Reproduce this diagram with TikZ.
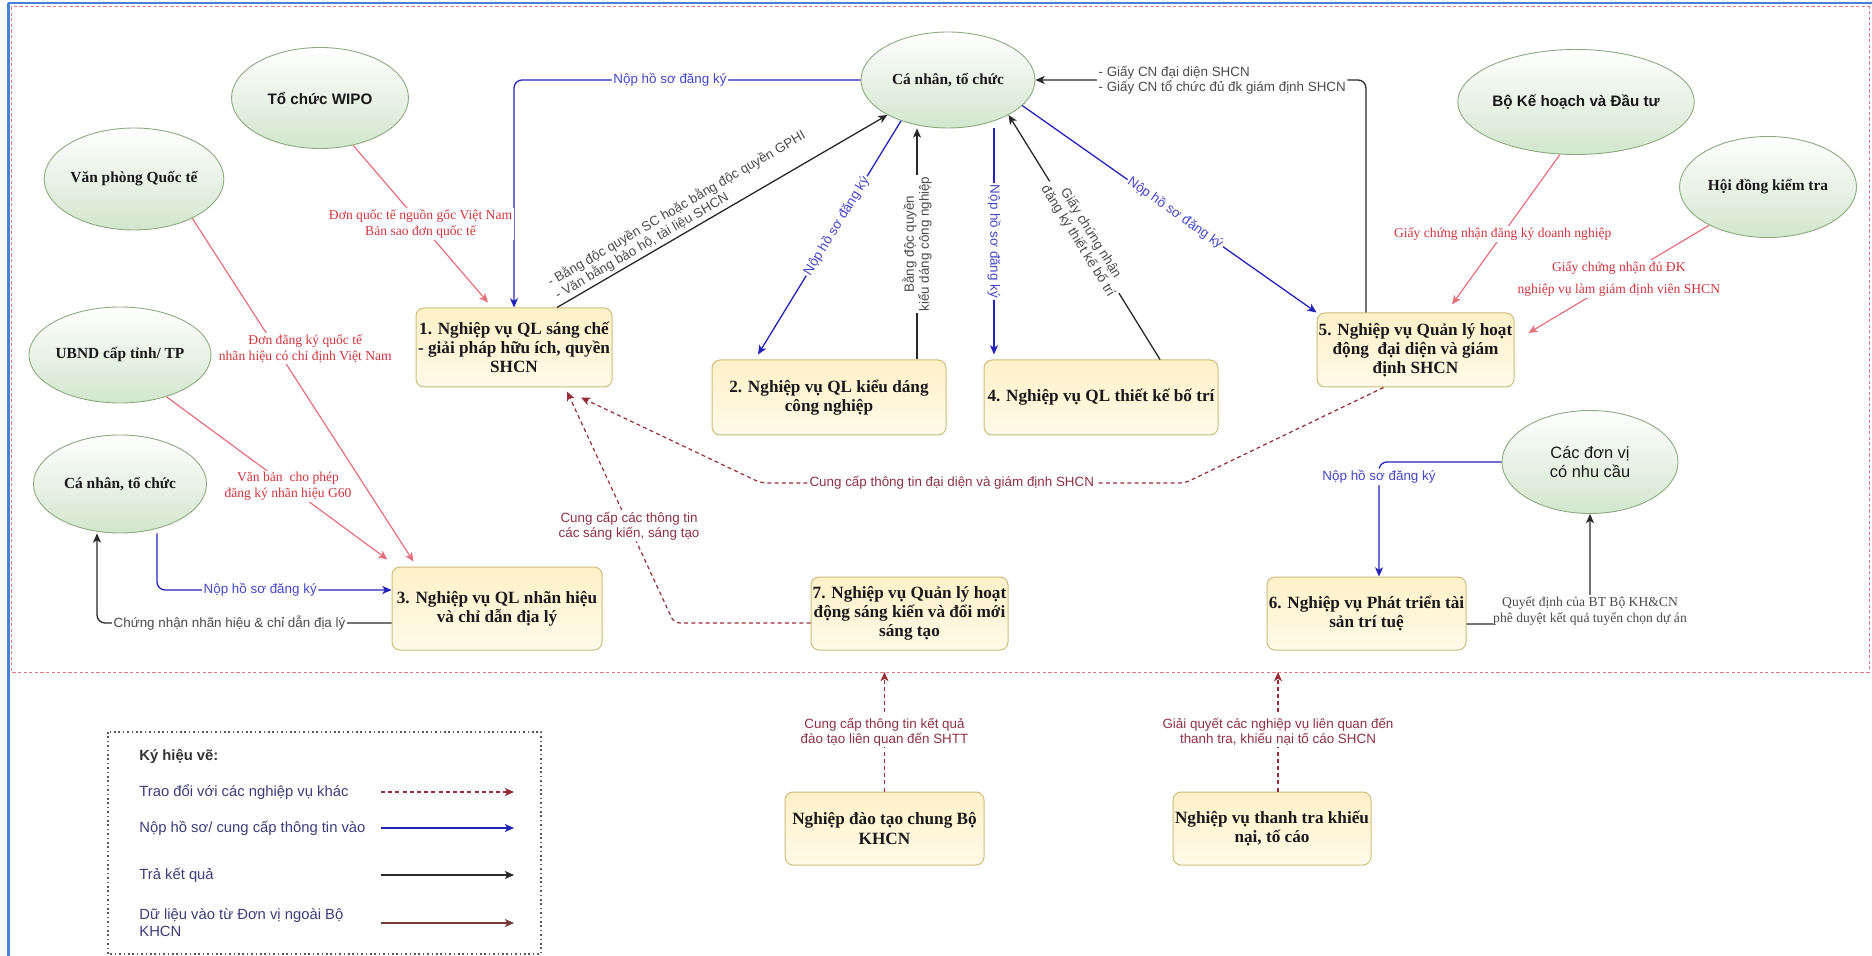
\documentclass[tikz,border=0pt]{standalone}
\usepackage{fontspec}
\setmainfont{Liberation Serif}
\setsansfont{Liberation Sans}
\usetikzlibrary{arrows.meta,calc,shapes.geometric}

\definecolor{ellline}{RGB}{140,170,128}
\definecolor{ellfill}{RGB}{210,230,205}
\definecolor{boxline}{RGB}{205,188,125}
\definecolor{boxtop}{RGB}{255,241,200}
\definecolor{boxbot}{RGB}{255,250,232}
\definecolor{inkblue}{RGB}{35,35,185}
\definecolor{lblblue}{RGB}{70,70,200}
\definecolor{inkblack}{RGB}{40,40,40}
\definecolor{lblgrey}{RGB}{75,75,75}
\definecolor{inkred}{RGB}{228,112,125}
\definecolor{lblred}{RGB}{205,55,65}
\definecolor{inkmaroon}{RGB}{150,45,55}
\definecolor{lblmaroon}{RGB}{140,50,70}
\definecolor{frameblue}{RGB}{70,130,215}
\definecolor{framered}{RGB}{225,120,130}
\definecolor{legtext}{RGB}{60,60,120}
\definecolor{legbrown}{RGB}{120,60,60}
\definecolor{txtdark}{RGB}{25,25,25}

\newcommand\fntBox{\bfseries\fontsize{8.6}{9.6}\selectfont}
\newcommand\fntEll{\bfseries\fontsize{7.7}{9}\selectfont}
\newcommand\fntEllSans{\sffamily\bfseries\fontsize{7.6}{9}\selectfont}
\newcommand\fntEllSansR{\sffamily\fontsize{8.2}{9.2}\selectfont}
\newcommand\fntLbl{\sffamily\fontsize{6.7}{7.5}\selectfont}
\newcommand\fntLblSerif{\fontsize{6.8}{7.8}\selectfont}
\newcommand\fntLeg{\sffamily\fontsize{7.4}{8.6}\selectfont}

\tikzset{
  >={Stealth[length=4.6pt,width=4pt,inset=1.2pt]},
  extell/.style={ellipse, draw=ellline, line width=0.45pt, top color=white,
    bottom color=ellfill, inner sep=0pt, align=center, text=txtdark,
    font=\fntEll, minimum width=88pt, minimum height=50pt},
  procbox/.style={rectangle, rounded corners=4pt, draw=boxline, line width=0.5pt,
    top color=boxtop, bottom color=boxbot, inner sep=0pt, align=center,
    text=txtdark, font=\fntBox},
  eblue/.style={draw=inkblue, line width=0.65pt, ->},
  eblack/.style={draw=inkblack, line width=0.65pt, ->},
  ered/.style={draw=inkred, line width=0.6pt, ->},
  edash/.style={draw=inkmaroon, line width=0.6pt, dash pattern=on 2pt off 1.6pt, ->},
  lblue/.style={font=\fntLbl, text=lblblue, fill=white, inner sep=0.8pt},
  lgrey/.style={font=\fntLbl, text=lblgrey, fill=white, inner sep=0.8pt},
  lred/.style={font=\fntLblSerif, text=lblred, fill=white, inner sep=0.8pt, align=center},
  ldark/.style={font=\fntLbl, text=lblmaroon, fill=white, inner sep=0.8pt, align=center},
  lserif/.style={font=\fntLblSerif, text=lblgrey, fill=white, inner sep=0.8pt, align=center},
  legtxt/.style={font=\fntLeg, text=legtext, anchor=west, align=left, inner sep=0pt},
}

\begin{document}
\begin{tikzpicture}[x=0.5pt,y=-0.5pt]
\useasboundingbox (0,0) rectangle (1872,956);

% outer frames
\draw[frameblue, line width=1.5pt] (8,956) -- (8,3);
\draw[frameblue, line width=1pt] (8,3) -- (1872,3);
\draw[framered, line width=0.5pt, dash pattern=on 1.6pt off 1.2pt] (11,7) rectangle (1869,672);
\coordinate (sepL) at (11,672);

% external parties
\node[extell, minimum width=87pt, minimum height=48pt] (E1) at (948,80) {Cá nhân, tổ chức};
\node[extell, font=\fntEllSans, minimum width=88.5pt, minimum height=50.5pt] (WIPO) at (320,98) {Tổ chức WIPO};
\node[extell, minimum width=88.5pt, minimum height=51pt] (VP) at (134,179) {Văn phòng Quốc tế};
\node[extell, minimum width=86.5pt, minimum height=48pt] (UBND) at (120,355) {UBND cấp tỉnh/ TP};
\node[extell, minimum width=86.5pt, minimum height=49pt] (E2) at (120,484) {Cá nhân, tổ chức};
\node[extell, font=\fntEllSans, minimum width=88.5pt, minimum height=52.5pt] (BKH) at (1576,102) {Bộ Kế hoạch và Đầu tư};
\node[extell, minimum width=88.5pt, minimum height=50.5pt] (HD) at (1768,187) {Hội đồng kiểm tra};
\node[extell, font=\fntEllSansR, minimum width=88pt, minimum height=51.5pt] (CDV) at (1590,462) {Các đơn vị\\có nhu cầu};

% business processes
\node[procbox, minimum width=98pt, minimum height=39.5pt] (B1) at (514,347.5) {1. Nghiệp vụ QL sáng chế\\- giải pháp hữu ích, quyền\\SHCN};
\node[procbox, minimum width=117pt, minimum height=37.5pt] (B2) at (829,397.5) {2. Nghiệp vụ QL kiểu dáng\\công nghiệp};
\node[procbox, minimum width=117pt, minimum height=37.5pt] (B4) at (1101,397.5) {4. Nghiệp vụ QL thiết kế bố trí};
\node[procbox, minimum width=98.5pt, minimum height=37pt] (B5) at (1415.5,350) {5. Nghiệp vụ Quản lý hoạt\\động~ đại diện và giám\\định SHCN};
\node[procbox, minimum width=105pt, minimum height=41.5pt] (B3) at (497,608.5) {3. Nghiệp vụ QL nhãn hiệu\\và chỉ dẫn địa lý};
\node[procbox, minimum width=98.5pt, minimum height=36.5pt] (B7) at (909.5,613.5) {7. Nghiệp vụ Quản lý hoạt\\động sáng kiến và đổi mới\\sáng tạo};
\node[procbox, minimum width=99.5pt, minimum height=36.5pt] (B6) at (1366.5,613.5) {6. Nghiệp vụ Phát triển tài\\sản trí tuệ};
\node[procbox, minimum width=99.5pt, minimum height=36.5pt] (BDT) at (884.5,828.5) {Nghiệp đào tạo chung Bộ\\KHCN};
\node[procbox, minimum width=99pt, minimum height=36.5pt] (BTT) at (1272,828.5) {Nghiệp vụ thanh tra khiếu\\nại, tố cáo};

% attachment points
\coordinate (b1a) at ($(B1.north)+(43,0)$);
\coordinate (b2a) at ($(B2.north)+(88,0)$);
\coordinate (b4a) at ($(B4.north)+(-107,-5)$);
\coordinate (b5a) at ($(B5.north)+(-49.5,0)$);
\coordinate (bta) at ($(BTT.north)+(6,0)$);

% submissions (blue)
\draw[eblue, rounded corners=4pt] (E1.west) -- node[lblue, pos=0.55]{Nộp hồ sơ đăng ký} (E1.west -| B1.north) -- (B1.north);
\draw[eblue] (E1.221) -- node[lblue, pos=0.45, sloped]{Nộp hồ sơ đăng ký} ($(B2.north)+(-71,-5)$);
\draw[eblue] (b4a |- E1.south) -- node[lblue, pos=0.5, rotate=-90]{Nộp hồ sơ đăng ký} (b4a);
\draw[eblue] (E1.341) -- node[lblue, pos=0.52, sloped]{Nộp hồ sơ đăng ký} (B5.north west);
\draw[eblue, rounded corners=4pt] ($(E2.south)+(37,0)$) |- node[lblue, pos=0.72]{Nộp hồ sơ đăng ký} ($(B3.west)+(0,-18.5)$);
\draw[eblue, rounded corners=4pt] (CDV.west) -| node[lblue, pos=0.565]{Nộp hồ sơ đăng ký} ($(B6.north)+(12.5,0)$);

% results (black)
\draw[eblack] (b1a) -- node[lgrey, fill=none, pos=0.40, sloped, above=0.5pt, align=left]{- Bằng độc quyền SC hoặc bằng độc quyền GPHI\\- Văn bằng bảo hộ, tài liệu SHCN} (E1.210);
\draw[eblack] (b2a) -- node[lgrey, pos=0.5, rotate=90, align=center]{Bằng độc quyền\\kiểu dáng công nghiệp} (b2a |- E1.south);
\draw[eblack] ($(B4.north)+(59,0)$) -- node[lgrey, pos=0.5, sloped, align=center]{Giấy chứng nhận\\đăng ký thiết kế bố trí} (E1.330);
\draw[eblack, rounded corners=4pt] (b5a) -- (b5a |- E1.east) -- node[lgrey, pos=0.435, align=left]{- Giấy CN đại diện SHCN\\- Giấy CN tổ chức đủ đk giám định SHCN} (E1.east);
\draw[eblack, rounded corners=4pt] ($(B3.west)+(0,14.5)$) -| node[lgrey, pos=0.275]{Chứng nhận nhãn hiệu \& chỉ dẫn địa lý} ($(E2.south)+(-23,0)$);
\draw[eblack, rounded corners=4pt] ($(B6.east)+(0,10.5)$) -| node[lserif, pos=0.5, yshift=6.5pt]{Quyết định của BT Bộ KH\&CN\\phê duyệt kết quả tuyển chọn dự án} (CDV.south);

% inputs from outside units (red)
\draw[ered] (WIPO.305) -- node[lred, pos=0.5]{Đơn quốc tế nguồn gốc Việt Nam\\Bản sao đơn quốc tế} ($(B1.north)+(-26,-5)$);
\draw[ered] (VP.326) -- node[lred, pos=0.38, xshift=14.5pt]{Đơn đăng ký quốc tế\\nhãn hiệu có chỉ định Việt Nam} ($(B3.north west)+(22,-5)$);
\draw[ered] (UBND.318) -- node[lred, pos=0.55]{Văn bản~ cho phép\\đăng ký nhãn hiệu G60} ($(B3.north west)+(-4,-7)$);
\draw[ered] (BKH.253) -- node[lred, pos=0.53]{Giấy chứng nhận đăng ký doanh nghiệp} ($(B5.north)+(36.5,-8)$);
\draw[ered] (HD.213) -- node[lred, pos=0.5]{Giấy chứng nhận đủ ĐK\\[3pt]nghiệp vụ làm giám định viên SHCN} ($(B5.east)+(14,-17)$);

% exchanges between processes (dashed)
\draw[edash, rounded corners=3pt] ($(B5.south)+(-32,0)$) -- (1185,483) -- node[ldark, pos=0.55]{Cung cấp thông tin đại diện và giám định SHCN} (761,483) -- ($(B1.south)+(67,10)$);
\draw[edash, rounded corners=3pt] ($(B7.west)+(0,9.5)$) -- (674,623) -- node[ldark, pos=0.42]{Cung cấp các thông tin\\các sáng kiến, sáng tạo} ($(B1.south)+(53,4)$);
\draw[edash] (BDT.north) -- node[ldark, pos=0.5]{Cung cấp thông tin kết quả\\đào tạo liên quan đến SHTT} (BDT.north |- sepL);
\draw[edash] (bta) -- node[ldark, pos=0.5]{Giải quyết các nghiệp vụ liên quan đến\\thanh tra, khiếu nại tố cáo SHCN} (bta |- sepL);

% legend
\draw[black!65, line width=0.6pt, dash pattern=on 0.8pt off 1.4pt] (108,732) rectangle (541,954);
\node[legtxt, text=black!80, font=\fntLeg\bfseries] at (139,757) {Ký hiệu vẽ:};
\node[legtxt] at (139,792) {Trao đổi với các nghiệp vụ khác};
\node[legtxt] at (139,828) {Nộp hồ sơ/ cung cấp thông tin vào};
\node[legtxt] at (139,875) {Trả kết quả};
\node[legtxt] at (139,923) {Dữ liệu vào từ Đơn vị ngoài Bộ\\KHCN};
\draw[edash] (381,792) -- (514,792);
\draw[eblue] (381,828) -- (514,828);
\draw[eblack] (381,875) -- (514,875);
\draw[draw=legbrown, line width=0.65pt, ->] (381,923) -- (514,923);
\end{tikzpicture}
\end{document}
